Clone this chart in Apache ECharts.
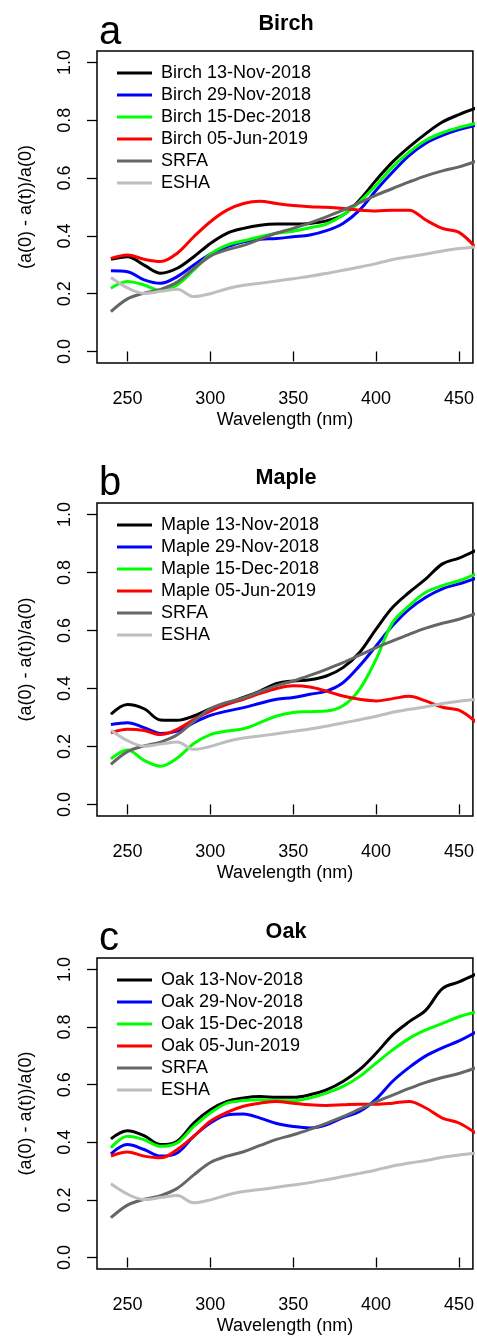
<!DOCTYPE html>
<html><head><meta charset="utf-8">
<script src="https://cdn.jsdelivr.net/npm/echarts@6/dist/echarts.min.js"></script>
<style>html,body{margin:0;padding:0;background:#fff}#c{width:477px;height:1337px}</style>
</head><body><div id="c"></div>
<script>
// ---------- data ----------
const wavelengths = [240,250,260,270,280,290,300,310,320,330,340,350,360,370,380,390,400,410,420,430,440,450,460];
const xTicks = [250,300,350,400,450];
const yTicks = [0,0.2,0.4,0.6,0.8,1.0];

const srfa = [0.138,0.182,0.202,0.215,0.240,0.287,0.330,0.352,0.367,0.389,0.410,0.426,0.445,0.466,0.489,0.515,0.541,0.564,0.587,0.608,0.625,0.639,0.658];
const esha = [0.256,0.220,0.201,0.208,0.215,0.190,0.200,0.217,0.229,0.236,0.244,0.252,0.260,0.270,0.281,0.292,0.304,0.318,0.328,0.337,0.348,0.356,0.362];

const birchNov13 = [0.319,0.328,0.299,0.271,0.288,0.328,0.374,0.409,0.426,0.437,0.441,0.441,0.443,0.452,0.472,0.524,0.593,0.656,0.708,0.754,0.794,0.820,0.842];
const birchNov29 = [0.279,0.276,0.248,0.236,0.259,0.299,0.337,0.362,0.380,0.388,0.391,0.397,0.403,0.418,0.443,0.489,0.558,0.621,0.679,0.721,0.748,0.768,0.783];
const birchDec15 = [0.219,0.242,0.230,0.211,0.230,0.282,0.337,0.368,0.383,0.397,0.409,0.416,0.428,0.441,0.472,0.518,0.575,0.639,0.690,0.731,0.757,0.775,0.789];
const birchJun05 = [0.322,0.334,0.319,0.311,0.340,0.397,0.449,0.489,0.512,0.520,0.512,0.505,0.501,0.499,0.495,0.489,0.486,0.489,0.489,0.455,0.426,0.412,0.360];

const mapleNov13 = [0.311,0.345,0.330,0.291,0.290,0.305,0.330,0.349,0.369,0.391,0.417,0.426,0.430,0.443,0.472,0.524,0.605,0.680,0.732,0.778,0.830,0.850,0.876];
const mapleNov29 = [0.276,0.282,0.265,0.245,0.253,0.282,0.307,0.322,0.334,0.349,0.363,0.369,0.380,0.391,0.420,0.478,0.547,0.617,0.674,0.715,0.744,0.761,0.780];
const mapleDec15 = [0.157,0.188,0.152,0.132,0.160,0.210,0.241,0.253,0.261,0.282,0.305,0.317,0.320,0.322,0.340,0.397,0.501,0.628,0.686,0.732,0.755,0.772,0.795];
const mapleJun05 = [0.247,0.259,0.255,0.241,0.259,0.293,0.322,0.345,0.363,0.383,0.400,0.409,0.405,0.391,0.374,0.363,0.357,0.365,0.373,0.357,0.335,0.325,0.285];

const oakNov13 = [0.412,0.440,0.423,0.392,0.404,0.467,0.513,0.542,0.554,0.559,0.556,0.556,0.565,0.582,0.611,0.652,0.709,0.773,0.819,0.859,0.934,0.957,0.983];
const oakNov29 = [0.360,0.392,0.375,0.352,0.363,0.421,0.467,0.495,0.498,0.484,0.465,0.455,0.450,0.461,0.486,0.507,0.550,0.612,0.660,0.700,0.728,0.752,0.782];
const oakDec15 = [0.381,0.421,0.409,0.386,0.398,0.455,0.502,0.536,0.545,0.548,0.545,0.544,0.554,0.571,0.594,0.628,0.675,0.721,0.761,0.790,0.813,0.836,0.852];
const oakJun05 = [0.352,0.366,0.352,0.346,0.375,0.421,0.473,0.504,0.525,0.536,0.542,0.536,0.530,0.528,0.530,0.532,0.532,0.536,0.542,0.519,0.484,0.467,0.432];

const panelTitles = ['Birch','Maple','Oak'];
const panelLetters = ['a','b','c'];
const dateLabels = ['13-Nov-2018','29-Nov-2018','15-Dec-2018','05-Jun-2019'];
const panelSeries = [
  [birchNov13, birchNov29, birchDec15, birchJun05, srfa, esha],
  [mapleNov13, mapleNov29, mapleDec15, mapleJun05, srfa, esha],
  [oakNov13, oakNov29, oakDec15, oakJun05, srfa, esha]
];
// ---------- styling / layout ----------
const colors = ['#000000','#0000FF','#00FF00','#FF0000','#666666','#BEBEBE'];
const FONT = "'Liberation Sans', Arial, sans-serif";
const gridTops = [51, 503, 958];
const gridHeights = [312, 313, 311];
const letterY = [32.5, 484, 939];
const titleY = [24.5, 478, 932];

const grids = [], xAxes = [], yAxes = [], series = [], legends = [], graphics = [];
panelTitles.forEach((t, p) => {
  grids.push({left: 97, right: 2, top: gridTops[p], height: gridHeights[p], show: true,
    borderColor: '#000', borderWidth: 1.5, backgroundColor: 'transparent'});
  xAxes.push({gridIndex: p, type: 'value', min: 231.6, max: 458.4,
    axisLine: {show: false}, splitLine: {show: false},
    axisTick: {show: true, length: 10, customValues: xTicks, lineStyle: {color: '#000', width: 1.3}},
    axisLabel: {customValues: xTicks, fontSize: 18, color: '#000', margin: 27, fontFamily: FONT},
    name: 'Wavelength (nm)', nameLocation: 'middle', nameGap: 48,
    nameTextStyle: {fontSize: 18, color: '#000', fontFamily: FONT}});
  yAxes.push({gridIndex: p, type: 'value', min: -0.04, max: 1.04,
    axisLine: {show: false}, splitLine: {show: false},
    axisTick: {show: true, length: 10, customValues: yTicks, lineStyle: {color: '#000', width: 1.3}},
    axisLabel: {customValues: yTicks, rotate: 90, fontSize: 18, color: '#000', margin: 23, fontFamily: FONT,
      formatter: v => v.toFixed(1)},
    name: '(a(0) - a(t))/a(0)', nameLocation: 'middle', nameGap: 62, nameRotate: 90,
    nameTextStyle: {fontSize: 18, color: '#000', fontFamily: FONT}});
  const names = dateLabels.map(d => t + ' ' + d).concat(['SRFA', 'ESHA']);
  panelSeries[p].forEach((vals, k) => {
    series.push({type: 'line', name: names[k], xAxisIndex: p, yAxisIndex: p,
      data: wavelengths.map((w, i) => [w, vals[i]]),
      smooth: 0.35, symbol: 'none', clip: true,
      lineStyle: {width: 3, color: colors[k]}, itemStyle: {color: colors[k]},
      emphasis: {disabled: true}});
  });
  legends.push({orient: 'vertical', left: 112, top: gridTops[p] + 21 - 13,
    icon: 'rect', itemWidth: 35, itemHeight: 3, itemGap: 4, selectedMode: false,
    textStyle: {fontSize: 18, color: '#000', fontFamily: FONT, lineHeight: 18, padding: [0, 0, 0, 4]},
    data: names});
  graphics.push({type: 'text', x: 286, y: titleY[p],
    style: {text: t, font: 'bold 21.6px ' + FONT, fill: '#000', align: 'center', verticalAlign: 'middle'}});
  graphics.push({type: 'text', x: 99, y: letterY[p],
    style: {text: panelLetters[p], font: '40px ' + FONT, fill: '#000', align: 'left', verticalAlign: 'middle'}});
});

const chart = echarts.init(document.getElementById('c'), null, {renderer: 'canvas'});
chart.setOption({
  animation: false, backgroundColor: '#fff',
  grid: grids, xAxis: xAxes, yAxis: yAxes, series: series, legend: legends, graphic: graphics
});
</script></body></html>
